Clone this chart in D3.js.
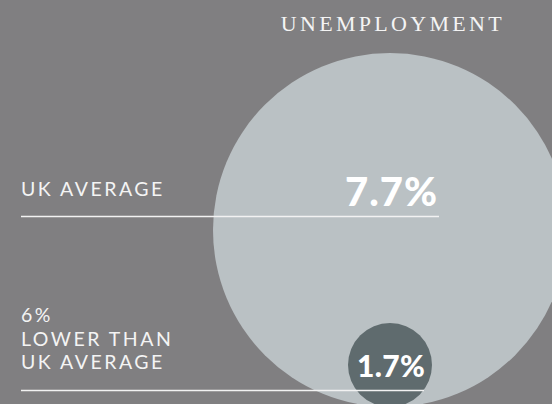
<!DOCTYPE html>
<html>
<head>
<meta charset="utf-8">
<script src="https://cdn.jsdelivr.net/npm/d3@7/dist/d3.min.js"></script>
<style>
html,body{margin:0;padding:0;background:#807f81;}
svg{display:block;}
</style>
</head>
<body>
<svg id="chart" width="552" height="404"></svg>
<script>
const title = "UNEMPLOYMENT";
const categories = ["UK AVERAGE", "LOCAL"];
const values = [7.7, 1.7];
const valueLabels = ["7.7%", "1.7%"];
const sideLabels = [["UK AVERAGE"], ["6%", "LOWER THAN", "UK AVERAGE"]];

const W = 552, H = 404;
const svg = d3.select("#chart");
svg.append("rect").attr("width", W).attr("height", H).attr("fill", "#807f81");

const r = d3.scaleLinear().domain([1.7, 7.7]).range([42, 177]);
const baseY = 407, cx = 390;
const fills = ["#bac1c4", "#5f6b6e"];

svg.selectAll("circle.b").data(values).join("circle")
  .attr("class", "b")
  .attr("cx", cx)
  .attr("cy", d => baseY - r(d))
  .attr("r", d => r(d))
  .attr("fill", (d, i) => fills[i]);

// leader lines
const lineY = [216.5, 390.5];
const lineX2 = [439, 424];
svg.selectAll("line.l").data(values).join("line")
  .attr("class", "l")
  .attr("x1", 21).attr("x2", (d, i) => lineX2[i])
  .attr("y1", (d, i) => lineY[i]).attr("y2", (d, i) => lineY[i])
  .attr("stroke", "#f2f2f2").attr("stroke-width", 1.5);

// value labels
const valY = [206, 377];
const valSize = [40, 30];
svg.selectAll("text.v").data(valueLabels).join("text")
  .attr("class", "v")
  .attr("x", (d, i) => i === 0 ? 438 : 425)
  .attr("y", (d, i) => valY[i])
  .attr("text-anchor", "end")
  .attr("font-family", "Lato, 'Noto Sans', sans-serif")
  .attr("font-weight", 900)
  .attr("font-size", (d, i) => valSize[i])
  .attr("letter-spacing", (d, i) => i === 0 ? 1 : 0.3)
  .attr("fill", "#ffffff")
  .text(d => d);

// side labels (one text per line)
const sideY = [196, 322];
const lineStep = 23.5;
const sideRows = [];
sideLabels.forEach((lines, i) => lines.forEach((s, j) => sideRows.push({ s, y: sideY[i] + j * lineStep })));
svg.selectAll("text.s").data(sideRows).join("text")
  .attr("class", "s")
  .attr("x", 21).attr("y", d => d.y)
  .attr("font-family", "Lato, sans-serif")
  .attr("font-weight", 400)
  .attr("font-size", 19.5)
  .attr("letter-spacing", 2.5)
  .attr("fill", "#f4f4f4")
  .text(d => d.s);

svg.append("text")
  .attr("x", 505).attr("y", 31)
  .attr("text-anchor", "end")
  .attr("font-family", "'Liberation Serif', serif")
  .attr("font-size", 22)
  .attr("letter-spacing", 3.3)
  .attr("fill", "#f4f4f4")
  .text(title);
</script>
</body>
</html>
